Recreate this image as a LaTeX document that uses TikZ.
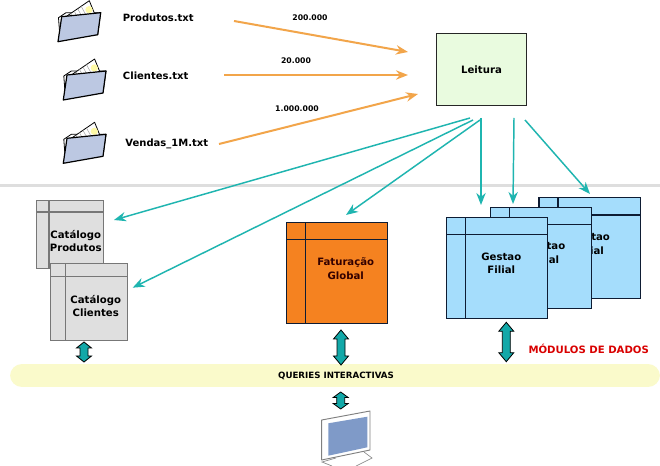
\documentclass[tikz,border=0pt]{standalone}
\usepackage{fontspec}
\setmainfont{DejaVu Sans}
\usetikzlibrary{arrows.meta,calc}
\definecolor{orangeln}{HTML}{F2A54A}
\definecolor{tealln}{HTML}{1FB5B0}
\definecolor{teald}{HTML}{12A8A8}
\definecolor{greyfill}{HTML}{DFDFDF}
\definecolor{greyln}{HTML}{777777}
\definecolor{fatfill}{HTML}{F58220}
\definecolor{bluefill}{HTML}{A5DDFC}
\definecolor{navyln}{HTML}{0E1C33}
\definecolor{folderfill}{HTML}{BCC8E2}
\definecolor{leitfill}{HTML}{E9FBDF}
\definecolor{barfill}{HTML}{FAFACB}
\definecolor{screenfill}{HTML}{7F9AC8}
\tikzset{
  x=0.75pt,y=-0.75pt,
  lbl/.style={font=\bfseries\fontsize{7.5}{9}\selectfont,align=center,inner sep=0pt,text=black},
  numlbl/.style={font=\bfseries\fontsize{5.8}{7}\selectfont,inner sep=0pt},
  boxlbl/.style={font=\bfseries\fontsize{7.6}{10.3}\selectfont,align=center,inner sep=0pt},
  inflow/.style={draw=orangeln,line width=1.5pt,-{Stealth[length=9pt,width=7pt]}},
  outflow/.style={draw=tealln,line width=1.1pt,-{Stealth[length=9pt,width=7pt]}},
  dblarrow/.style={draw=black,fill=teald,line width=0.6pt,line join=miter},
  pics/folder/.style={code={
    \draw[fill=white,line width=.6pt,line join=round] (0.5,-24)--(8,-29)--(37,-29)--(42.7,-29)--(39.7,-7)--(2,-4)--cycle;
    \draw[fill=white,line width=.6pt,line join=round] (8,-25)--(31.3,-41)--(37,-27)--(30,-22)--cycle;
    \foreach \t in {0.2,0.35,0.5,0.65}
      \draw[black!35,line width=.4pt] ($(8,-25)!\t!(31.3,-41)$)--++(5,9);
    \fill[yellow!35] (31,-32) circle (3.6);
    \draw[fill=folderfill,line width=.9pt,line join=round] (0,0)--(3.7,-25)--(42.7,-29)--(39.7,-7)--cycle;
  }},
}
\newcommand{\tablebox}[8]{% x1 y1 x2 y2 vx hy fill line
  \draw[fill=#7,draw=#8,line width=.9pt] (#1,#2) rectangle (#3,#4);
  \draw[draw=#8,line width=.9pt] (#5,#2)--(#5,#4) (#1,#6)--(#3,#6);
}
\newcommand{\updown}[4]{% x ytop ybottom headheight
  \draw[dblarrow] (#1,#2)--(#1+7.5,#2+#4)--(#1+4,#2+#4)--(#1+4,#3-#4)--(#1+7.5,#3-#4)--(#1,#3)
    --(#1-7.5,#3-#4)--(#1-4,#3-#4)--(#1-4,#2+#4)--(#1-7.5,#2+#4)--cycle;
}
\begin{document}
\begin{tikzpicture}
\useasboundingbox (0,0) rectangle (660,466);
\fill[white] (0,0) rectangle (660,466);
% separator
\fill[black!13] (0,184.5) rectangle (660,187.5);
% files
\pic at (58,41.7) {folder};
\pic at (63.3,100) {folder};
\pic at (63.3,163.3) {folder};
\node[lbl] (prod) at (158.3,17.7) {Produtos.txt};
\node[lbl] (cli) at (155.7,76) {Clientes.txt};
\node[lbl] (vend) at (166.8,144) {Vendas\_1M.txt};
% reader
\node[draw=black!85,fill=leitfill,line width=.8pt,minimum width=68pt,minimum height=54.5pt,inner sep=0pt,font=\bfseries\fontsize{7.6}{9}\selectfont] (leitura) at (481.5,69.5) {Leitura};
% in-flows
\coordinate (p1) at (234,21); \coordinate (p1e) at (408,52);
\coordinate (c1) at (224,75); \coordinate (c1e) at (408,75);
\coordinate (v1) at (219,144); \coordinate (v1e) at (418,94);
\draw[inflow] (p1)--(p1e);
\draw[inflow] (c1)--(c1e);
\draw[inflow] (v1)--(v1e);
\node[numlbl] (n1) at (310,18) {200.000};
\node[numlbl] (n2) at (296,61) {20.000};
\node[numlbl] (n3) at (297,109) {1.000.000};
% yellow bar
\node[fill=barfill,rounded corners=9pt,minimum width=487.5pt,minimum height=17.2pt,inner sep=0pt] (bar) at (335,375.5) {};
\node[inner sep=0pt,font=\bfseries\fontsize{6.5}{8}\selectfont] (qlbl) at (336,376) {QUERIES INTERACTIVAS};
% catalog
\tablebox{36.7}{200.7}{103.3}{268.3}{49}{212}{greyfill}{greyln}
\node[boxlbl] (catp) at (75.7,241) {Catálogo\\Produtos};
\tablebox{50.7}{263.3}{127.7}{340.7}{65.5}{276.5}{greyfill}{greyln}
\node[boxlbl] (catc) at (95.7,306) {Catálogo\\Clientes};
% billing
\tablebox{286.3}{222.7}{387.3}{323.3}{305.3}{239.3}{fatfill}{navyln}
\node[boxlbl,text=black!80!red] (fat) at (345.7,268.7) {Faturação\\Global};
% branches
\tablebox{539}{197.7}{640.3}{298.7}{558}{215}{bluefill}{navyln}
\node[boxlbl] (g3) at (590,243.5) {Gestao\\Filial};
\tablebox{490.3}{207.3}{591.7}{308.7}{509.3}{224.7}{bluefill}{navyln}
\node[boxlbl] (g2) at (545.3,253) {Gestao\\Filial};
\tablebox{446.3}{217.3}{547.7}{318.3}{465.3}{234.7}{bluefill}{navyln}
\node[boxlbl] (g1) at (501.3,263.2) {Gestao\\Filial};
% out-flows
\coordinate (o1) at (470,118); \coordinate (o1e) at (114,220);
\coordinate (o2) at (473,120); \coordinate (o2e) at (132.7,287.7);
\coordinate (o3) at (480,120); \coordinate (o3e) at (346,215);
\coordinate (o4) at (481,118); \coordinate (o4e) at (481,205);
\coordinate (o5) at (514,118); \coordinate (o5e) at (513,204);
\coordinate (o6) at (525,120); \coordinate (o6e) at (590,194);
\foreach \a/\b in {o1/o1e,o2/o2e,o3/o3e,o4/o4e,o5/o5e,o6/o6e}
  \draw[outflow] (\a)--(\b);
% double arrows
\updown{84}{342}{362}{6}
\updown{341}{330}{365}{9}
\updown{506.3}{322.3}{361.7}{9}
\updown{340.7}{392}{409}{5.5}
\node[font=\bfseries\fontsize{7.6}{9}\selectfont,text=red!85!black,inner sep=0pt] (mod) at (588.7,348.7) {MÓDULOS DE DADOS};
% monitor
\draw[black!45,fill=white,line width=.5pt] (336,458)--(322,462)--(332,466) (364,452)--(372,458)--(356,466);
\draw[black!50,fill=white,line width=.7pt,line join=round] (321.7,420)--(370,411)--(370,450)--(321.7,460)--cycle;
\fill[screenfill] (328.3,423.3)--(367.3,416.7)--(367.3,447.3)--(328.3,455.7)--cycle;
\end{tikzpicture}
\end{document}
